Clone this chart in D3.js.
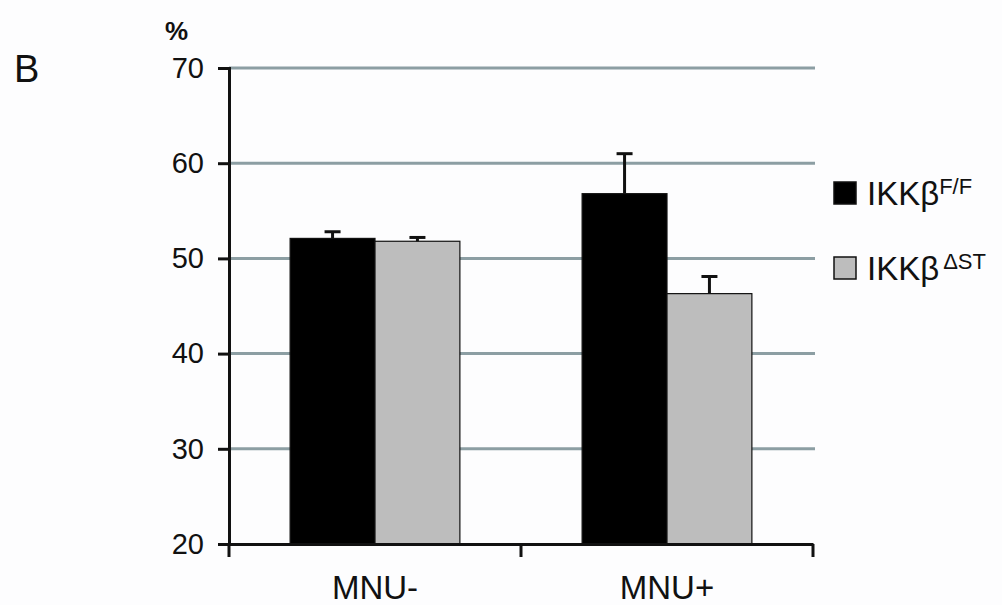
<!DOCTYPE html>
<html>
<head>
<meta charset="utf-8">
<script src="https://cdn.jsdelivr.net/npm/d3@7"></script>
<style>
  body { margin: 0; background: #fdfdfe; }
  text { font-family: "Liberation Sans", Arial, sans-serif; fill: #111; }
</style>
</head>
<body>
<svg width="1002" height="605"></svg>
<script>
var categories = ['MNU-', 'MNU+'];
var groups = ['F/F', 'ST'];
var meanFF = [52.1, 56.8];
var errFF = [0.7, 4.2];
var meanST = [51.8, 46.3];
var errST = [0.4, 1.8];
var yTicks = [20, 30, 40, 50, 60, 70];

var width = 1002, height = 605;
var margin = {top: 68, bottom: 61, left: 229, right: 189};

var data = [];
categories.forEach((c, i) => {
  data.push({cat: c, g: 'F/F', v: meanFF[i], e: errFF[i]});
  data.push({cat: c, g: 'ST', v: meanST[i], e: errST[i]});
});
var colors = {'F/F': '#000', 'ST': '#bdbdbd'};

var svg = d3.select('svg');

// scales
var xScale = d3.scaleBand()
  .domain(categories)
  .range([margin.left, width - margin.right]);
var xInner = d3.scaleBand()
  .domain(groups)
  .range([0, xScale.bandwidth()])
  .paddingInner(0)
  .paddingOuter(0.72);
var yScale = d3.scaleLinear()
  .domain([20, 70])
  .range([height - margin.bottom, margin.top]);

// gridlines
svg.append('g').selectAll('line')
  .data(yTicks.filter(t => t > 20))
  .enter().append('line')
  .attr('x1', margin.left)
  .attr('x2', width - margin.right + 2)
  .attr('y1', d => yScale(d))
  .attr('y2', d => yScale(d))
  .attr('stroke', '#8c9ea3')
  .attr('stroke-width', 3);

// bars
svg.append('g').selectAll('rect')
  .data(data)
  .enter().append('rect')
  .attr('x', d => xScale(d.cat) + xInner(d.g))
  .attr('y', d => yScale(d.v))
  .attr('width', xInner.bandwidth())
  .attr('height', d => yScale(20) - yScale(d.v))
  .attr('fill', d => colors[d.g])
  .attr('stroke', '#111')
  .attr('stroke-width', 1.2);

// error bars
var eb = svg.append('g').attr('stroke', '#111').attr('stroke-width', 3);
data.forEach(d => {
  var cx = xScale(d.cat) + xInner(d.g) + xInner.bandwidth() / 2;
  eb.append('line')
    .attr('x1', cx).attr('x2', cx)
    .attr('y1', yScale(d.v)).attr('y2', yScale(d.v + d.e));
  eb.append('line')
    .attr('x1', cx - 8).attr('x2', cx + 8)
    .attr('y1', yScale(d.v + d.e)).attr('y2', yScale(d.v + d.e));
});

// y axis
var yAxis = d3.axisLeft(yScale)
  .tickValues(yTicks)
  .tickSize(11)
  .tickPadding(14);
var gy = svg.append('g')
  .attr('transform', 'translate(' + [margin.left, 0] + ')')
  .call(yAxis);
gy.selectAll('text').attr('font-size', 29).attr('fill', '#111');

// x axis
var xAxis = d3.axisBottom(xScale)
  .tickValues([])
  .tickSizeOuter(0);
var gx = svg.append('g')
  .attr('transform', 'translate(' + [0, height - margin.bottom] + ')')
  .call(xAxis);
gx.selectAll('.tick-edge')
  .data([margin.left, xScale('MNU+'), width - margin.right])
  .enter().append('line')
  .attr('x1', d => d).attr('x2', d => d)
  .attr('y1', 0).attr('y2', 13)
  .attr('stroke', '#111').attr('stroke-width', 3);
gx.selectAll('.cat')
  .data(categories)
  .enter().append('text')
  .attr('x', d => xScale(d) + xScale.bandwidth() / 2)
  .attr('y', 55)
  .attr('text-anchor', 'middle')
  .attr('font-size', 33)
  .attr('fill', '#111')
  .text(d => d);

svg.selectAll('.domain, .tick line')
  .attr('stroke', '#111')
  .attr('stroke-width', 3);

// labels
svg.append('text').attr('x', 165).attr('y', 40).attr('font-size', 26).attr('font-weight', 'bold').text('%');
svg.append('text').attr('x', 14).attr('y', 82).attr('font-size', 38).text('B');

// legend
var legend = [{g: 'F/F', sup: 'F/F', y: 182}, {g: 'ST', sup: '\u0394ST', y: 257}];
var lg = svg.append('g');
legend.forEach(l => {
  lg.append('rect')
    .attr('x', 834).attr('y', l.y)
    .attr('width', 22).attr('height', 22)
    .attr('fill', colors[l.g])
    .attr('stroke', '#111').attr('stroke-width', 1.5);
  var t = lg.append('text')
    .attr('x', 867).attr('y', l.y + 23)
    .attr('font-size', 33);
  t.append('tspan').text('IKK\u03b2');
  t.append('tspan').attr('font-size', 22).attr('dy', -11)
    .attr('dx', l.g === 'ST' ? 4 : 0).text(l.sup);
});
</script>
</body>
</html>
